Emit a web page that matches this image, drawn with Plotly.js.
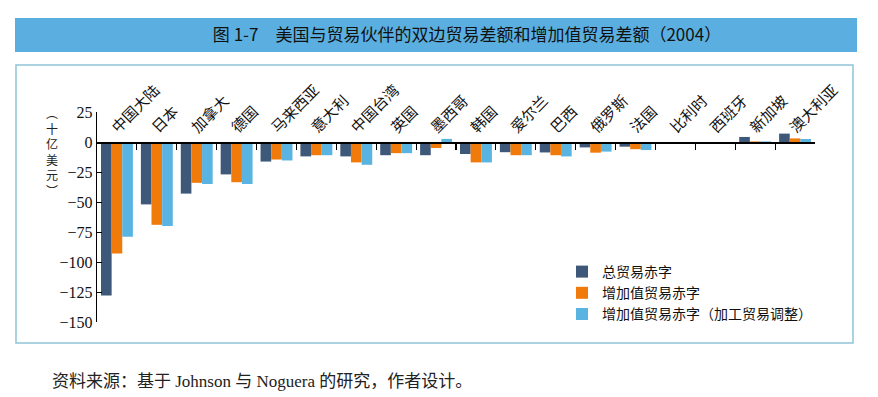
<!DOCTYPE html>
<html>
<head>
<meta charset="utf-8">
<script src="https://cdn.plot.ly/plotly-3.0.1.min.js"></script>
<style>
html,body{margin:0;padding:0;background:#fff;}
#chart{width:878px;height:397px;}
</style>
</head>
<body>
<div id="chart"></div>
<script>
// ---- data ----
const categories = ["中国大陆","日本","加拿大","德国","马来西亚","意大利","中国台湾","英国","墨西哥","韩国","爱尔兰","巴西","俄罗斯","法国","比利时","西班牙","新加坡","澳大利亚"];
const grossDeficit = [-128,-52,-43,-27,-16.3,-12,-12,-11,-11,-10,-8.5,-8.7,-4.5,-3.9,-1,-0.3,4.2,7];
const vaDeficit = [-93,-69,-34,-33.5,-14.6,-11,-17,-9.3,-5,-17,-11,-11,-8.9,-6,-0.4,-0.2,0.5,3];
const vaAdjDeficit = [-79,-70,-35,-35,-15.4,-11,-19,-9.3,2.6,-17,-11,-12,-8,-6.7,-0.3,-0.2,0.5,2.5];
const seriesNames = ["总贸易赤字","增加值贸易赤字","增加值贸易赤字（加工贸易调整）"];
const yTickVals = [25,0,-25,-50,-75,-100,-125,-150];
const titleText = "图 1-7　美国与贸易伙伴的双边贸易差额和增加值贸易差额（2004）";
const yTitleChars = ["︵","十","亿","美","元","︶"];
const sourceText = "资料来源：基于 Johnson 与 Noguera 的研究，作者设计。";

// ---- layout geometry (pixels) ----
const W = 878, H = 397;
const M = {l:97, r:63, t:112, b:75};
const PW = W - M.l - M.r, PH = H - M.t - M.b;
const px = x => (x - M.l) / PW;
const py = y => (H - M.b - y) / PH;

const colors = ["#3d5878","#f07a0a","#5ab4e2"];
const serif = "Liberation Serif, Noto Sans CJK SC, serif";
const cjk = "Noto Sans CJK SC, sans-serif";

const values = [grossDeficit, vaDeficit, vaAdjDeficit];
const traces = values.map((v,i) => ({
  type:"bar", x:categories, y:v, name:seriesNames[i],
  marker:{color:colors[i], line:{width:0}}
}));

const annotations = [
  {xref:"paper",yref:"paper",x:px(52),y:py(151),
    text:yTitleChars.join("<br>"),showarrow:false,xanchor:"center",yanchor:"middle",
    align:"center",borderpad:0,font:{family:cjk,size:12,color:"#222"}},
  {xref:"paper",yref:"paper",x:px(50),y:py(381),text:sourceText,
    showarrow:false,xanchor:"left",yanchor:"middle",font:{family:serif,size:17,color:"#222"}}
];

const shapes = [
  {type:"rect",xref:"paper",yref:"paper",x0:px(15),x1:px(857),y0:py(52),y1:py(18),
   fillcolor:"#5aafe0",line:{width:0},layer:"below"},
  {type:"rect",xref:"paper",yref:"paper",x0:px(16),x1:px(853),y0:py(343),y1:py(65),
   fillcolor:"rgba(0,0,0,0)",line:{color:"#8ec3d6",width:1.5},layer:"below"}
];

const layout = {
  width:W,height:H,
  margin:M,
  paper_bgcolor:"#fff",plot_bgcolor:"rgba(0,0,0,0)",
  showlegend:true,
  title:{text:titleText,xref:"container",yref:"container",x:467/W,y:1-35/H,
    xanchor:"center",yanchor:"middle",font:{family:cjk,size:17,color:"#111"}},
  barmode:"group",bargap:0.2,bargroupgap:0,
  xaxis:{type:"category",anchor:"free",position:150/175,side:"top",
    showline:true,linecolor:"#000",linewidth:1.5,
    ticks:"inside",tickson:"boundaries",ticklen:6,tickcolor:"#000",tickwidth:1.2,
    tickangle:-45,ticklabelshift:-4,tickfont:{family:cjk,size:15,color:"#111"},
    showgrid:false,zeroline:false,fixedrange:true},
  yaxis:{range:[-150,25],tickvals:yTickVals,ticktext:yTickVals.map(v=>v<0?"\u2212"+Math.abs(v):String(v)),
    showline:true,linecolor:"#000",linewidth:1.2,ticks:"inside",ticklen:5,tickcolor:"#000",
    tickfont:{family:serif,size:16,color:"#111"},showgrid:false,zeroline:false,fixedrange:true},
  legend:{x:px(562),y:py(256),xanchor:"left",yanchor:"top",bgcolor:"rgba(0,0,0,0)",
    font:{family:cjk,size:14,color:"#111"},tracegroupgap:0,itemwidth:30},
  shapes:shapes,
  annotations:annotations
};

Plotly.newPlot("chart",traces,layout,{staticPlot:true,displayModeBar:false});
</script>
</body>
</html>
